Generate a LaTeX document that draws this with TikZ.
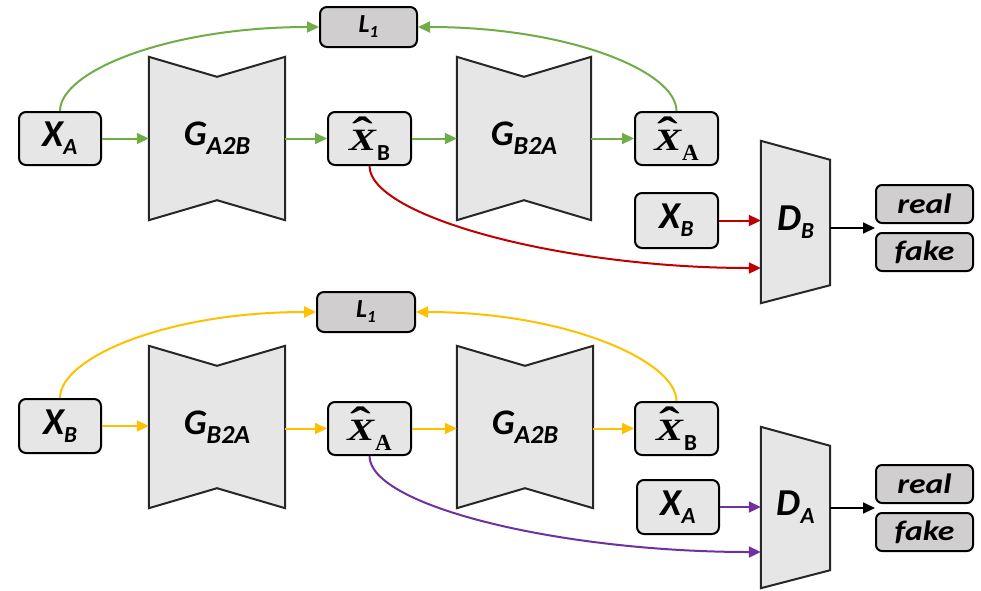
\RequirePackage{fix-cm}
\documentclass[tikz,border=0pt]{standalone}
\usepackage{fontspec}
\setmainfont{Carlito}
\newfontfamily\serifbi{Liberation Serif}
\usetikzlibrary{arrows.meta,calc,backgrounds}
\definecolor{cGreen}{HTML}{70AD47}
\definecolor{cRed}{HTML}{C00000}
\definecolor{cYellow}{HTML}{FFC000}
\definecolor{cPurple}{HTML}{7030A0}
\definecolor{boxFill}{HTML}{E7E6E6}
\definecolor{darkFill}{HTML}{D0CECE}
\definecolor{genFill}{HTML}{E6E6E6}
\newcommand\mainlab[2]{{\fontsize{38}{40}\selectfont\bfseries\itshape #1\raisebox{-8pt}{\fontsize{23}{23}\selectfont #2}}}
\newcommand\genlab[2]{{\fontsize{36}{40}\selectfont\bfseries\itshape #1\raisebox{-9pt}{\fontsize{26}{26}\selectfont #2}}}
\newcommand\hatX{\vbox{\offinterlineskip\halign{\hfil##\hfil\cr
  \hspace{1pt}\scalebox{2.0}[1.4]{\serifbi\bfseries ˆ}\cr\noalign{\kern-17pt}
  \scalebox{1.3}[1]{\serifbi\bfseries\itshape X}\cr}}}
\newcommand\hatlab[1]{{\fontsize{31}{32}\selectfont\hatX\kern1pt\raisebox{-10pt}{\fontsize{23}{23}\selectfont #1}}}
\newcommand\losslab{{\fontsize{26}{28}\selectfont\bfseries\itshape L\raisebox{-5pt}{\fontsize{17}{17}\selectfont 1}}}
\newcommand\outlab[1]{\scalebox{1.2}[1]{\fontsize{28}{29}\selectfont\bfseries\itshape #1}}
\tikzset{
  box/.style={draw=black, line width=2pt, fill=boxFill, rounded corners=7pt, inner sep=0pt, minimum width=82pt, minimum height=53pt},
  lossbox/.style={draw=black, line width=2pt, fill=darkFill, rounded corners=7pt, inner sep=0pt, minimum width=97pt, minimum height=40pt},
  outbox/.style={draw=black, line width=2pt, fill=darkFill, rounded corners=6pt, inner sep=0pt, minimum width=97pt, minimum height=38pt},
  gennode/.style={inner sep=0pt, minimum width=136pt, minimum height=163pt},
  dnode/.style={inner sep=0pt, minimum width=69pt, minimum height=162pt},
  shapefill/.style={draw=black!85, line width=2pt, fill=genFill, line join=miter},
  arr/.style={line width=2pt, -{Triangle[length=12pt,width=11pt]}},
  garr/.style={arr, draw=cGreen},
  rarr/.style={arr, draw=cRed},
  yarr/.style={arr, draw=cYellow},
  parr/.style={arr, draw=cPurple},
  karr/.style={arr, draw=black},
}
\begin{document}
\begin{tikzpicture}[x=1pt,y=-1pt]
\useasboundingbox (0,0) rectangle (981,590);
% ---------- top half ----------
\node[lossbox] (L1) at (368.5,27) {\losslab};
\node[box] (XA) at (60,138.5) {\mainlab{X}{A}};
\node[gennode] (G1) at (217,138.5) {\genlab{G}{A2B}};
\node[box, minimum width=83pt] (XhB) at (369.5,138.5) {\hatlab{\textbf{B}}};
\node[gennode, minimum width=134pt] (G2) at (524,138.5) {\genlab{G}{B2A}};
\node[box, minimum width=83pt] (XhA) at (676.5,138.5) {\hatlab{{\serifbi\bfseries A}}};
\node[box, minimum width=83pt, minimum height=55pt] (XB) at (676.5,220.5) {\mainlab{X}{B}};
\node[dnode] (DB) at (795.5,222) {\mainlab{D}{B}};
\node[outbox] (real1) at (924.5,204) {\outlab{real}};
\node[outbox] (fake1) at (924.5,252) {\outlab{fake}};
% ---------- bottom half ----------
\node[lossbox, minimum width=98pt] (L2) at (366,312) {\losslab};
\node[box, minimum height=54pt] (XB2) at (60,426) {\mainlab{X}{B}};
\node[gennode, minimum height=162pt] (G3) at (217,427) {\genlab{G}{B2A}};
\node[box, minimum width=83pt] (XhA2) at (369.5,428.5) {\hatlab{{\serifbi\bfseries A}}};
\node[gennode, minimum height=162pt] (G4) at (525,427) {\genlab{G}{A2B}};
\node[box, minimum width=83pt] (XhB2) at (676.5,428.5) {\hatlab{\textbf{B}}};
\node[box, minimum height=54pt] (XA2) at (678,507) {\mainlab{X}{A}};
\node[dnode, minimum height=161pt] (DA) at (795.5,507.5) {\mainlab{D}{A}};
\node[outbox] (real2) at (924.5,484) {\outlab{real}};
\node[outbox] (fake2) at (924.5,532) {\outlab{fake}};
% ---------- shapes ----------
\begin{scope}[on background layer]
\foreach \g in {G1,G2,G3,G4}{
  \draw[shapefill] (\g.north west) -- ($(\g.north)+(0,20)$) -- (\g.north east)
    -- (\g.south east) -- ($(\g.south)+(0,-20)$) -- (\g.south west) -- cycle;
}
\foreach \d in {DB,DA}{
  \draw[shapefill] (\d.north west) -- ($(\d.north east)+(0,19)$)
    -- ($(\d.south east)+(0,-18)$) -- (\d.south west) -- cycle;
}
\end{scope}
% ---------- top connectors ----------
\draw[garr] (XA) -- (G1);
\draw[garr] (G1) -- (XhB);
\draw[garr] (XhB) -- (G2);
\draw[garr] (G2) -- (XhA);
\draw[garr] (XA.north) .. controls +(0,-40) and +(-150,0) .. (L1.west);
\draw[garr] (XhA.north) .. controls +(0,-40) and +(150,0) .. (L1.east);
\draw[rarr] (XB.east) -- (XB.east -| DB.west);
\draw[rarr] (XhB.south) .. controls +(0,50) and +(-200,0) .. ($(DB.west)+(0,46)$);
\coordinate (gap1) at ($(real1.south west)!0.5!(fake1.north west)$);
\draw[karr] (DB.east |- gap1) -- (gap1);
% ---------- bottom connectors ----------
\draw[yarr] (XB2) -- (XB2 -| G3.west);
\draw[yarr] (G3.east |- XhA2) -- (XhA2);
\draw[yarr] (XhA2) -- (XhA2 -| G4.west);
\draw[yarr] (G4.east |- XhB2) -- (XhB2);
\draw[yarr] (XB2.north) .. controls +(0,-40) and +(-150,0) .. (L2.west);
\draw[yarr] (XhB2.north) .. controls +(0,-40) and +(150,0) .. (L2.east);
\draw[parr] (XA2.east) -- (XA2.east -| DA.west);
\draw[parr] (XhA2.south) .. controls +(0,50) and +(-200,0) .. ($(DA.west)+(0,44.5)$);
\coordinate (gap2) at ($(real2.south west)!0.5!(fake2.north west)$);
\draw[karr] (DA.east |- gap2) -- (gap2);
\end{tikzpicture}
\end{document}
